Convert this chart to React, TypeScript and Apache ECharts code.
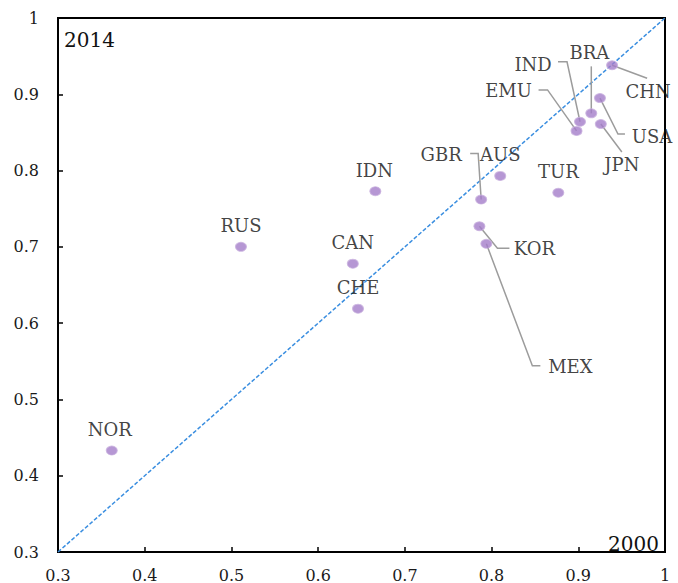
import React, { useEffect, useRef } from "react";
import * as echarts from "echarts";

// ---- data ----
const countries = ["NOR", "RUS", "IDN", "CAN", "CHE", "GBR", "AUS", "TUR", "KOR", "MEX", "CHN", "USA", "JPN", "BRA", "IND", "EMU"];
const values2000 = [0.362, 0.511, 0.666, 0.640, 0.646, 0.788, 0.810, 0.877, 0.786, 0.794, 0.939, 0.925, 0.926, 0.915, 0.902, 0.898];
const values2014 = [0.433, 0.700, 0.773, 0.678, 0.619, 0.762, 0.793, 0.771, 0.727, 0.704, 0.938, 0.895, 0.861, 0.875, 0.864, 0.852];
const diagonalEnds = [0.3, 1];
const xLabel = "2000";
const yLabel = "2014";

// ---- styles: label placement (pixel offsets from the dot) ----
const labelOffsets: Record<string, [number, number]> = {
  NOR: [-2, -21], RUS: [0, -21], IDN: [-1, -21], CAN: [0, -21], CHE: [0, -21],
  GBR: [-40, -45], AUS: [0, -21], TUR: [0, -21], KOR: [55, 22], MEX: [84, 123],
  CHN: [36, 26], USA: [52, 38], JPN: [21, 40], BRA: [-2, -61], IND: [-47, -57], EMU: [-68, -40],
};
const leaderPaths: Record<string, [number, number][]> = {
  GBR: [[-3, -46], [-11, -46]],
  KOR: [[18, 22], [30, 22]],
  MEX: [[46, 122], [54, 122]],
  CHN: [[35, 13]],
  USA: [[18, 36], [25, 36]],
  JPN: [[21, 28]],
  BRA: [[0, -47]],
  IND: [[-13, -60], [-22, -60]],
  EMU: [[-29, -41], [-38, -41]],
};

const FONT = "DejaVu Serif";

export default function App() {
  const ref = useRef<HTMLDivElement>(null);
  useEffect(() => {
    if (!ref.current) return;
    const chart = echarts.init(ref.current, undefined, { renderer: "svg" });
    const leaderNames = countries.filter((c) => leaderPaths[c]);
    const leaderData = leaderNames.map((c) => {
      const i = countries.indexOf(c);
      return [values2000[i], values2014[i]];
    });
    chart.setOption({
      animation: false,
      textStyle: { fontFamily: FONT },
      grid: { left: 58, right: 13, top: 18, bottom: 27, show: true, borderColor: "#000", borderWidth: 2, containLabel: false },
      xAxis: {
        type: "value", min: 0.3, max: 1, interval: 0.1,
        axisLine: { show: true, lineStyle: { color: "#000", width: 2 } },
        axisTick: { show: true, inside: true, length: 5, lineStyle: { color: "#000", width: 1.5 } },
        splitLine: { show: false },
        axisLabel: { color: "#1a1a1a", fontFamily: FONT, fontSize: 16, margin: 15 },
      },
      yAxis: {
        type: "value", min: 0.3, max: 1, interval: 0.1,
        axisLine: { show: true, lineStyle: { color: "#000", width: 2 } },
        axisTick: { show: true, inside: true, length: 5, lineStyle: { color: "#000", width: 1.5 } },
        splitLine: { show: false },
        axisLabel: { color: "#1a1a1a", fontFamily: FONT, fontSize: 16, margin: 19 },
      },
      graphic: [
        { type: "text", left: 64, top: 30, style: { text: yLabel, fontFamily: FONT, fontSize: 20, fill: "#111" } },
        { type: "text", right: 19, top: 534, style: { text: xLabel, fontFamily: FONT, fontSize: 20, fill: "#111" } },
      ],
      series: [
        {
          type: "line",
          data: [[diagonalEnds[0], diagonalEnds[0]], [diagonalEnds[1], diagonalEnds[1]]],
          symbol: "none",
          lineStyle: { color: "#3a8ee0", width: 1.5, type: [4, 2] },
          silent: true,
          z: 1,
        },
        {
          type: "custom",
          coordinateSystem: "cartesian2d",
          data: leaderData,
          encode: { x: 0, y: 1 },
          clip: false,
          z: 2,
          renderItem: (params: any, api: any) => {
            const p = api.coord([api.value(0), api.value(1)]);
            const name = leaderNames[params.dataIndex];
            const pts = [p, ...leaderPaths[name].map((o) => [p[0] + o[0], p[1] + o[1]])];
            return {
              type: "polyline",
              shape: { points: pts },
              style: { stroke: "#9c9c9c", lineWidth: 1.5, fill: "none" },
            };
          },
        },
        {
          type: "scatter",
          z: 3,
          symbol: "circle",
          symbolSize: [11, 9],
          itemStyle: { color: "#a47dc9", borderColor: "#c9b2df", borderWidth: 1 },
          data: countries.map((c, i) => ({
            name: c,
            value: [values2000[i], values2014[i]],
            label: { offset: labelOffsets[c] },
          })),
          label: {
            show: true,
            position: "inside",
            formatter: "{b}",
            color: "#111",
            fontFamily: FONT,
            fontSize: 18,
          },
        },
      ],
    });
    return () => chart.dispose();
  }, []);
  return <div ref={ref} style={{ position: "absolute", left: 0, top: 0, width: 678, height: 583 }} />;
}
